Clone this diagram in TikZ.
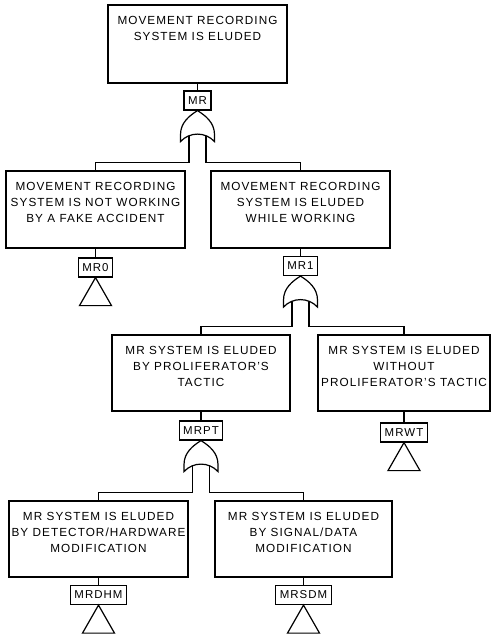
\documentclass[tikz,border=0pt]{standalone}
\usepackage{fontspec}
\setmainfont{Liberation Sans}[LetterSpace=9]
\usetikzlibrary{calc}
\begin{document}
\begin{tikzpicture}[x=1bp,y=-1bp,line width=1.2bp,
  ebox/.style={draw,rectangle,inner sep=0pt,line width=1.4bp},
  etext/.style={align=center,inner sep=0pt,anchor=north,font=\fontsize{11.8}{16.3}\selectfont},
  lbl/.style={draw,rectangle,inner xsep=4bp,inner ysep=0pt,minimum height=19bp,line width=1.2bp,font=\fontsize{11.5}{12}\selectfont},
  orgate/.pic={\draw[fill=white] (-17,31) -- (-17,24) .. controls (-17,12) and (-8,5) .. (0,0)
      .. controls (8,5) and (17,12) .. (17,24) -- (17,31) .. controls (8,21) and (-8,21) .. cycle;},
  undev/.pic={\draw (0,0) -- (-16,28) -- (16,28) -- cycle;}]
\useasboundingbox (0,0) rectangle (491,640);

% boxes
\node[ebox,minimum width=179bp,minimum height=78bp] (top) at (197.5,44) {};
\node[etext] (topt) at ([yshift=-11bp]top.north) {MOVEMENT RECORDING\\SYSTEM IS ELUDED};

\node[ebox,minimum width=179bp,minimum height=77bp] (a) at (95.5,209.5) {};
\node[etext] (at) at ([yshift=-11bp]a.north) {MOVEMENT RECORDING\\SYSTEM IS NOT WORKING\\BY A FAKE ACCIDENT};

\node[ebox,minimum width=179bp,minimum height=77bp] (b) at (300.5,209.5) {};
\node[etext] (bt) at ([yshift=-11bp]b.north) {MOVEMENT RECORDING\\SYSTEM IS ELUDED\\WHILE WORKING};

\node[ebox,minimum width=178bp,minimum height=76bp] (c) at (201,373) {};
\node[etext] (ct) at ([yshift=-11bp]c.north) {MR SYSTEM IS ELUDED\\BY PROLIFERATOR'S\\TACTIC};

\node[ebox,minimum width=172bp,minimum height=76bp] (d) at (404,373) {};
\node[etext] (dt) at ([yshift=-11bp]d.north) {MR SYSTEM IS ELUDED\\WITHOUT\\PROLIFERATOR'S TACTIC};

\node[ebox,minimum width=179bp,minimum height=76bp] (e) at (98.5,539) {};
\node[etext] (et) at ([yshift=-11bp]e.north) {MR SYSTEM IS ELUDED\\BY DETECTOR/HARDWARE\\MODIFICATION};

\node[ebox,minimum width=177bp,minimum height=76bp] (f) at (303.5,539) {};
\node[etext] (ft) at ([yshift=-11bp]f.north) {MR SYSTEM IS ELUDED\\BY SIGNAL/DATA\\MODIFICATION};

% labels
\node[lbl] (mr) at (197.5,100.5) {MR};
\node[lbl] (mr0) at (95.5,267.5) {MR0};
\node[lbl] (mr1) at (300.5,266) {MR1};
\node[lbl] (mrpt) at (201,430.5) {MRPT};
\node[lbl] (mrwt) at (404,432.5) {MRWT};
\node[lbl] (mrdhm) at (98.5,595) {MRDHM};
\node[lbl] (mrsdm) at (303.5,595) {MRSDM};

% box to label
\draw (top.south) -- (mr.north);
\draw (a.south) -- (mr0.north);
\draw (b.south) -- (mr1.north);
\draw (c.south) -- (mrpt.north);
\draw (d.south) -- (mrwt.north);
\draw (e.south) -- (mrdhm.north);
\draw (f.south) -- (mrsdm.north);

% gate connectors
\draw ($(mr.south)+(-8.5,25)$) |- ($(a.north)+(0,-7.5)$) -- (a.north);
\draw ($(mr.south)+(8.5,25)$) |- ($(b.north)+(0,-7.5)$) -- (b.north);
\draw ($(mr1.south)+(-8.5,25)$) |- ($(c.north)+(0,-7.5)$) -- (c.north);
\draw ($(mr1.south)+(8.5,25)$) |- ($(d.north)+(0,-7.5)$) -- (d.north);
\draw ($(mrpt.south)+(-8.5,25)$) |- ($(e.north)+(0,-7.5)$) -- (e.north);
\draw ($(mrpt.south)+(8.5,25)$) |- ($(f.north)+(0,-7.5)$) -- (f.north);

% gates
\pic at (mr.south) {orgate};
\pic at (mr1.south) {orgate};
\pic at (mrpt.south) {orgate};

% undeveloped events
\pic at (mr0.south) {undev};
\pic at (mrwt.south) {undev};
\pic at (mrdhm.south) {undev};
\pic at (mrsdm.south) {undev};
\end{tikzpicture}
\end{document}
